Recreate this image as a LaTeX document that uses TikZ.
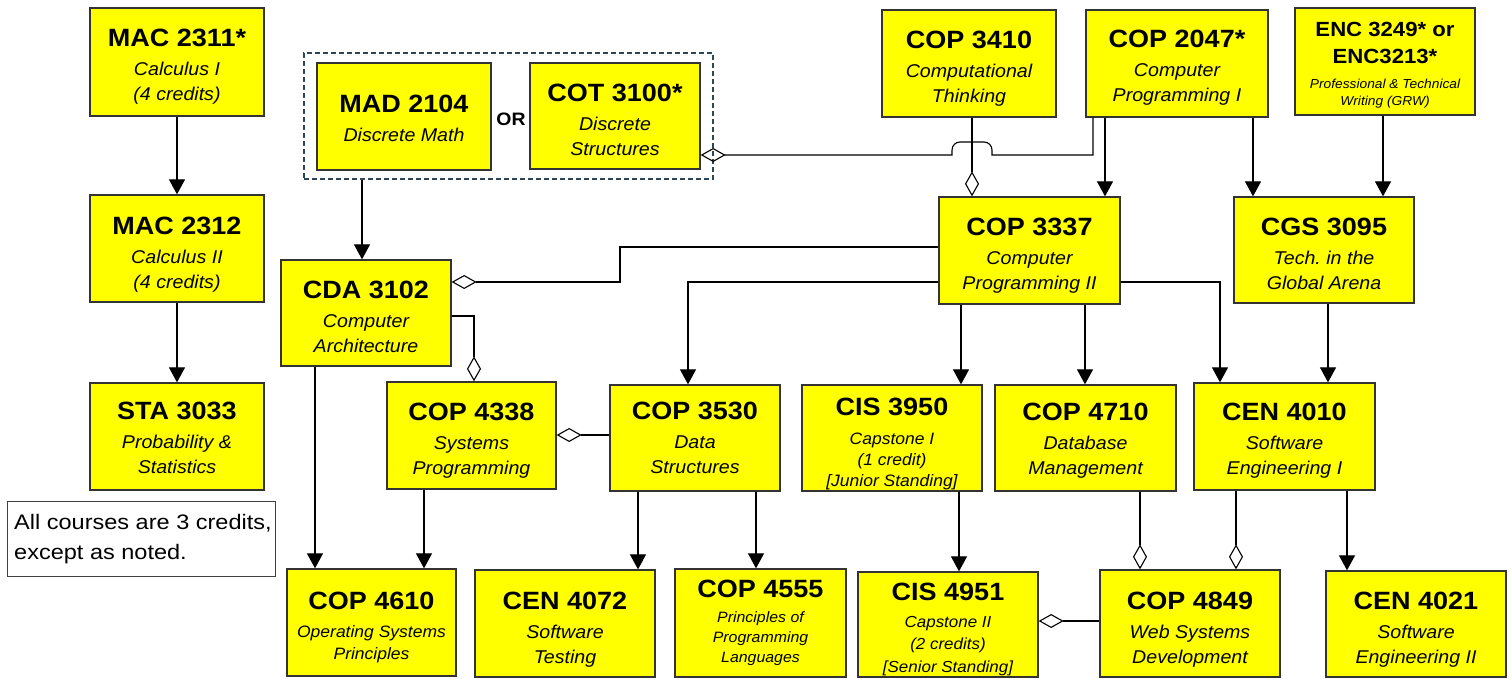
\documentclass[tikz,border=0pt]{standalone}
\usepackage{fontspec}
\setmainfont{Liberation Sans}
\newfontfamily\tfont[FakeStretch=1.08]{Liberation Sans}
\newfontfamily\sfont[FakeStretch=1.06]{Liberation Sans}
\newfontfamily\nfont[FakeStretch=1.12]{Liberation Sans}
\usetikzlibrary{arrows.meta}
\definecolor{boxyellow}{RGB}{255,255,0}
\definecolor{grpline}{RGB}{45,70,90}
\newcommand\ttl[2][25]{{\tfont\bfseries\upshape\fontsize{#1}{#1}\selectfont #2}}
\newcommand\coursebox[8][]{%
  \node[crs,minimum width={(#5-#3)*1pt},minimum height={(#6-#4)*1pt}] (#2) at ({(#3+#5)/2},{(#4+#6)/2}) {};
  \node[crstext,#1] (#2-t) at ({(#3+#5)/2},{(#4+#6)/2+#7}) {#8};}
\frenchspacing
\begin{document}
\begin{tikzpicture}[x=1pt,y=-1pt,
  crs/.style={draw=black!80,line width=1.3pt,fill=boxyellow,inner sep=0pt},
  crstext/.style={align=center,inner sep=0pt,font=\sfont\itshape\fontsize{18.5}{25}\selectfont},
  grp/.style={draw=grpline,line width=1.2pt,dash pattern=on 5pt off 3pt,inner sep=0pt},
  arr/.style={line width=1.2pt,-{Triangle[width=16pt,length=15pt]}},
  dia/.style={line width=1.1pt,-{Diamond[open,width=14pt,length=25pt]}}]
\fill[white] (0,0) rectangle (1511,679);
\useasboundingbox (0,0) rectangle (1511,679);

\node[grp,minimum width=409pt,minimum height=126pt] (grp) at (508.5,116) {};
\node[font=\tfont\bfseries\fontsize{18}{18}\selectfont] (or) at (511,119) {OR};

\coursebox{mac1}{90}{8}{264}{116}{5}{\ttl{MAC 2311*}\\[4pt]Calculus I\\(4 credits)}
\coursebox{mac2}{90}{195}{264}{302}{6}{\ttl{MAC 2312}\\[4pt]Calculus II\\(4 credits)}
\coursebox{sta}{90}{383}{264}{490}{1}{\ttl{STA 3033}\\[4pt]Probability \&\\Statistics}
\coursebox{mad}{317}{63}{491}{170}{2}{\ttl{MAD 2104}\\[4pt]Discrete Math}
\coursebox{cot}{530}{63}{700}{169}{4}{\ttl{COT 3100*}\\[4pt]Discrete\\Structures}
\coursebox{cop3410}{882}{10}{1056}{117}{5}{\ttl{COP 3410}\\[4pt]Computational\\Thinking}
\coursebox{cop2047}{1086}{10}{1268}{117}{4}{\ttl{COP 2047*}\\[4pt]Computer\\Programming I}
\coursebox[font=\sfont\itshape\fontsize{13}{17}\selectfont]{enc}{1295}{8}{1475}{115}{4}{\ttl[20.5]{ENC 3249* or}\\[10pt]\ttl[20.5]{ENC3213*}\\[8pt]Professional \& Technical\\Writing (GRW)}
\coursebox{cop3337}{939}{197}{1120}{304}{5}{\ttl{COP 3337}\\[4pt]Computer\\Programming II}
\coursebox{cgs}{1234}{197}{1414}{303}{4}{\ttl{CGS 3095}\\[4pt]Tech. in the\\Global Arena}
\coursebox{cda}{281}{260}{451}{366}{4}{\ttl{CDA 3102}\\[4pt]Computer\\Architecture}
\coursebox{cop4338}{387}{382}{556}{489}{5}{\ttl{COP 4338}\\[4pt]Systems\\Programming}
\coursebox{cop3530}{610}{385}{780}{491}{0}{\ttl{COP 3530}\\[4pt]Data\\Structures}
\coursebox[font=\sfont\itshape\fontsize{16.5}{21}\selectfont]{cis3950}{802}{385}{982}{491}{6}{\ttl{CIS 3950}\\[8pt]Capstone I\\(1 credit)\\{[}Junior Standing{]}}
\coursebox{cop4710}{995}{385}{1176}{491}{3}{\ttl{COP 4710}\\[4pt]Database\\Management}
\coursebox{cen4010}{1194}{383}{1375}{490}{4}{\ttl{CEN 4010}\\[4pt]Software\\Engineering I}
\coursebox[font=\sfont\itshape\fontsize{16.5}{22}\selectfont]{cop4610}{287}{569}{456}{676}{5}{\ttl{COP 4610}\\[6pt]Operating Systems\\Principles}
\coursebox{cen4072}{475}{570}{655}{677}{6}{\ttl{CEN 4072}\\[4pt]Software\\Testing}
\coursebox[font=\sfont\itshape\fontsize{15}{20}\selectfont]{cop4555}{675}{569}{846}{677}{0}{\ttl{COP 4555}\\[5pt]Principles of\\Programming\\Languages}
\coursebox[font=\sfont\itshape\fontsize{16}{22.5}\selectfont]{cis4951}{858}{572}{1038}{677}{5}{\ttl{CIS 4951}\\[4pt]Capstone II\\(2 credits)\\{[}Senior Standing{]}}
\coursebox{cop4849}{1100}{570}{1280}{677}{6}{\ttl{COP 4849}\\[4pt]Web Systems\\Development}
\coursebox{cen4021}{1326}{571}{1506}{677}{6}{\ttl{CEN 4021}\\[4pt]Software\\Engineering II}

\node[draw=black!75,line width=1pt,minimum width=268pt,minimum height=75pt,inner sep=0pt] (note) at (141,539) {};
\node[anchor=west,align=left,inner sep=0pt,font=\nfont\fontsize{21}{30}\selectfont] (note-t) at (14,539) {All courses are 3 credits,\\except as noted.};

% connectors
\draw[arr] (mac1.south) -- (mac2.north);
\draw[arr] (mac2.south) -- (sta.north);
\draw[arr] (362,0 |- grp.south) -- (362,0 |- cda.north);
\draw[dia] (1093,0 |- cop2047.south) -- (1093,155) -- (992,155) -- (992,150) to[out=90,in=0] (984,142) -- (960,142) to[out=180,in=90] (952,150) -- (952,155) -- (cot.east |- 0,155);
\draw[dia] (972,0 |- cop3410.south) -- (972,0 |- cop3337.north);
\draw[arr] (1105,0 |- cop2047.south) -- (1105,0 |- cop3337.north);
\draw[arr] (1253,0 |- cop2047.south) -- (1253,0 |- cgs.north);
\draw[arr] (1383,0 |- enc.south) -- (1383,0 |- cgs.north);
\draw[dia] (cop3337.west |- 0,247) -- (620,247) -- (620,282) -- (cda.east |- 0,282);
\draw[arr] (cop3337.west |- 0,282) -- (688,282) -- (688,0 |- cop3530.north);
\draw[dia] (cda.east |- 0,316) -- (474,316) -- (474,0 |- cop4338.north);
\draw[arr] (315,0 |- cda.south) -- (315,0 |- cop4610.north);
\draw[arr] (424,0 |- cop4338.south) -- (424,0 |- cop4610.north);
\draw[dia] (cop3530.west |- 0,435) -- (cop4338.east |- 0,435);
\draw[arr] (638,0 |- cop3530.south) -- (638,0 |- cen4072.north);
\draw[arr] (756,0 |- cop3530.south) -- (756,0 |- cop4555.north);
\draw[arr] (961,0 |- cop3337.south) -- (961,0 |- cis3950.north);
\draw[arr] (1085,0 |- cop3337.south) -- (1085,0 |- cop4710.north);
\draw[arr] (cop3337.east |- 0,282) -- (1220,282) -- (1220,0 |- cen4010.north);
\draw[arr] (1328,0 |- cgs.south) -- (1328,0 |- cen4010.north);
\draw[arr] (959,0 |- cis3950.south) -- (959,0 |- cis4951.north);
\draw[dia] (1140,0 |- cop4710.south) -- (1140,0 |- cop4849.north);
\draw[dia] (1236,0 |- cen4010.south) -- (1236,0 |- cop4849.north);
\draw[arr] (1347,0 |- cen4010.south) -- (1347,0 |- cen4021.north);
\draw[dia] (cop4849.west |- 0,621) -- (cis4951.east |- 0,621);
\end{tikzpicture}
\end{document}
